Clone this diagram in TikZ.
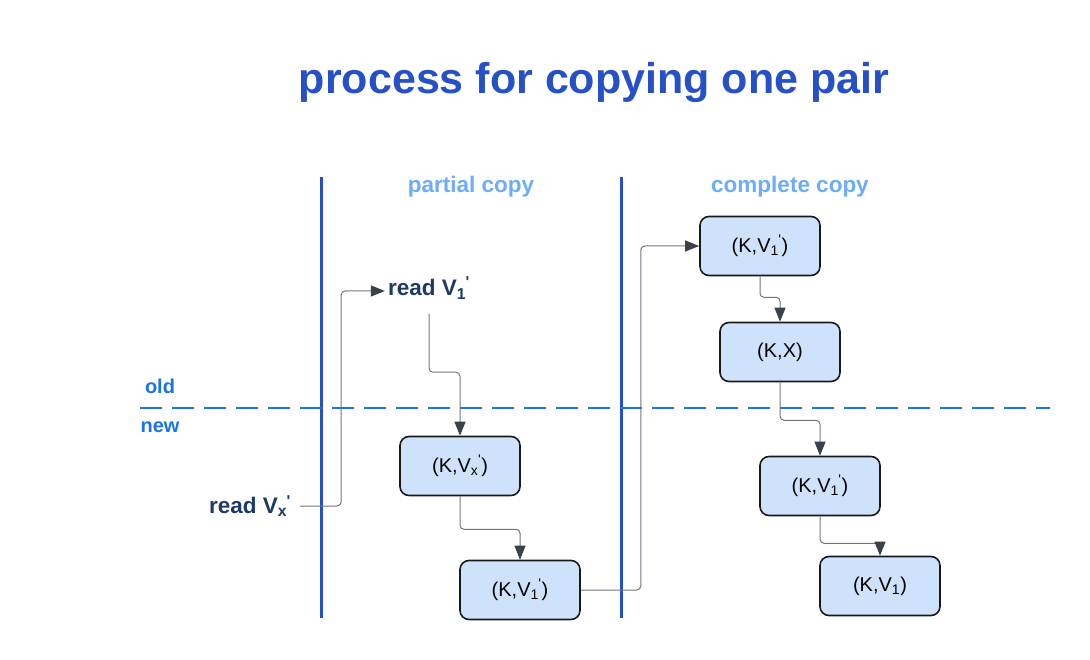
\documentclass[tikz,border=0pt]{standalone}
\usepackage{fontspec}
\setmainfont{Liberation Sans}
\usetikzlibrary{arrows.meta}

\definecolor{titelblau}{RGB}{37,80,200}
\definecolor{hellblau}{RGB}{108,172,250}
\definecolor{linienblau}{RGB}{26,115,232}
\definecolor{marine}{RGB}{31,58,100}
\definecolor{boxfill}{RGB}{207,226,252}
\definecolor{pfeilgrau}{RGB}{112,117,126}
\definecolor{spitze}{RGB}{58,65,75}

\newcommand{\vs}[1]{V\textsubscript{#1}\kern-0.02em\textsuperscript{\textquotesingle}}

\tikzset{
  paar/.style={draw=black!90, line width=1.6pt, fill=boxfill, rounded corners=9pt,
    minimum width=120pt, minimum height=59pt, font=\fontsize{20}{24}\selectfont},
  lesen/.style={text=marine, font=\bfseries\fontsize{22.5}{26}\selectfont, inner sep=3pt},
  phase/.style={text=hellblau, font=\bfseries\fontsize{22.5}{26}\selectfont},
  seite/.style={text=linienblau, font=\bfseries\fontsize{20}{24}\selectfont},
  fluss/.style={draw=pfeilgrau, line width=1pt, rounded corners=4pt,
    -{Triangle[length=14pt,width=11pt,color=spitze]}}
}

\begin{document}
\begin{tikzpicture}[x=1pt, y=-1pt]

  % Rahmen
  \useasboundingbox (0,0) rectangle (1090,660);

  % Titel
  \node[text=titelblau, font=\bfseries\fontsize{43}{50}\selectfont] (titel) at (594,82) {process for copying one pair};

  % Trennlinien
  \draw[titelblau, line width=3pt] (321,177) -- (321,618);
  \draw[titelblau, line width=3pt] (621,177) -- (621,618);
  \draw[linienblau, line width=2pt, dash pattern=on 22pt off 10pt] (140,408) -- (1050,408);

  % Phasen und Seiten
  \node[phase] (partiell) at (471,187) {partial copy};
  \node[phase] (komplett) at (790,187) {complete copy};
  \node[seite] (alt) at (160,386) {old};
  \node[seite] (neu) at (160,427) {new};

  % Lesezugriffe
  \node[lesen] (lieseins) at (429,288) {read \vs{1}};
  \node[lesen] (liesx) at (250,506) {read \vs{x}};

  % Paare
  \node[paar] (kvx) at (460,466) {(K,\vs{x})};
  \node[paar] (kveins) at (520,590) {(K,\vs{1})};
  \node[paar] (kvoben) at (760,246) {(K,\vs{1})};
  \node[paar] (kx) at (780,352) {(K,X)};
  \node[paar] (kvmitte) at (820,486) {(K,\vs{1})};
  \node[paar] (kvunten) at (880,586) {(K,V\textsubscript{1})};

  % Pfeile
  \draw[fluss] ([xshift=6pt]liesx.east) -- ++(41,0) |- ([yshift=-3pt]lieseins.west);
  \draw[fluss] ([yshift=-12pt]lieseins.south) -- ++(0,58) -| (kvx.north);
  \draw[fluss] (kvx.south) -- ++(0,33) -| (kveins.north);
  \draw[fluss] (kveins.east) -- ++(60,0) |- (kvoben.west);
  \draw[fluss] (kvoben.south) -- ++(0,21) -| (kx.north);
  \draw[fluss] (kx.south) -- ++(0,38) -| (kvmitte.north);
  \draw[fluss] (kvmitte.south) -- ++(0,27) -| (kvunten.north);

\end{tikzpicture}
\end{document}
